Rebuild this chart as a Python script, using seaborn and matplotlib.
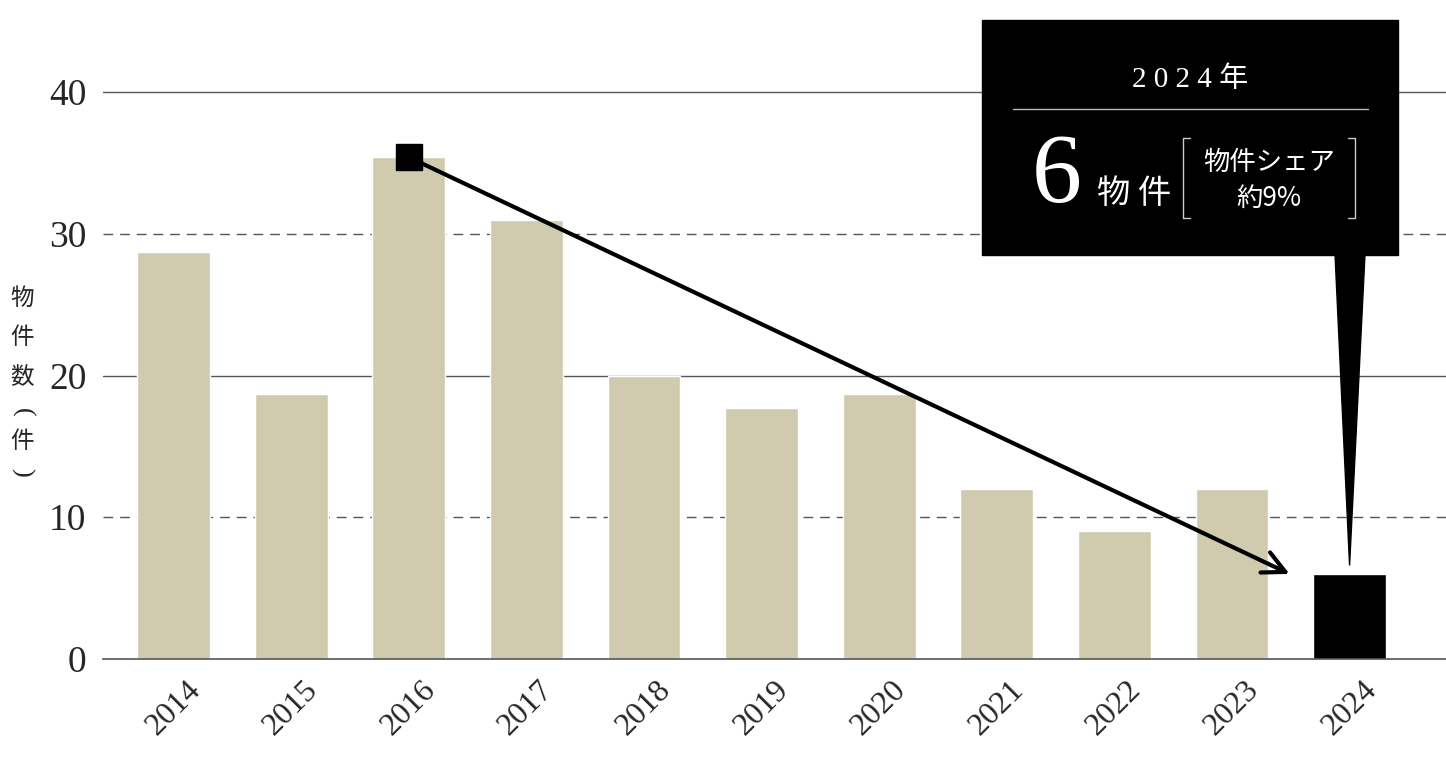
import numpy as np
import pandas as pd
import matplotlib
matplotlib.use("Agg")
import matplotlib.pyplot as plt
import seaborn as sns
from matplotlib.patches import Rectangle, Polygon

# data
years = ["2014", "2015", "2016", "2017", "2018", "2019", "2020", "2021", "2022", "2023", "2024"]
counts = [28.7, 18.7, 35.4, 31.0, 20.0, 17.7, 18.7, 12.0, 9.0, 12.0, 6.0]
bar_colors = ["#d0cbae"] * 10 + ["#000000"]
y_ticks = [0, 10, 20, 30, 40]
peak_year = "2016"

df = pd.DataFrame({"year": years, "count": counts})

sns.set_style("white")
plt.rcParams["font.family"] = ["Liberation Serif", "Noto Sans CJK JP"]

fig = plt.figure(figsize=(14.46, 7.76), dpi=100)
ax = fig.add_axes([103 / 1446, 117 / 776, 1 - 103 / 1446, 567 / 776])

sns.barplot(data=df, x="year", y="count", hue="year", palette=bar_colors,
            legend=False, width=0.62, saturation=1, ax=ax, zorder=2)

ax.set_xlim(-0.6, 10.82)
ax.set_ylim(0, 40)
for s in ["top", "right", "left"]:
    ax.spines[s].set_visible(False)
ax.spines["bottom"].set_color("#555555")
ax.spines["bottom"].set_linewidth(1.2)
ax.spines["bottom"].set_zorder(3)

# grid lines: solid at 20/40, dashed at 10/30
for v in y_ticks[1:]:
    ls = "-" if v % 20 == 0 else (0, (7, 5))
    ax.axhline(v, color="#555555", lw=1.0, ls=ls, zorder=1, clip_on=False)

ax.set_yticks(y_ticks)
ax.set_yticklabels([str(v) for v in y_ticks], fontsize=27)
ax.tick_params(axis="y", length=0, pad=12)
ax.tick_params(axis="x", length=0, pad=12)
for lab in ax.get_xticklabels():
    lab.set_rotation(45)
    lab.set_ha("center")
    lab.set_va("top")
    lab.set_fontsize(23)
ax.set_xlabel("")
ax.set_ylabel("")

# vertical y-axis label, one glyph per line
for ch, yp in [("物", 298), ("件", 338), ("数", 378), ("件", 442)]:
    fig.text(22 / 1446, 1 - yp / 776, ch, ha="center", va="center",
             fontsize=17, family=["Noto Sans CJK JP"])
# brackets turned for vertical writing
for ch, yp in [("(", 412), (")", 472)]:
    fig.text(22 / 1446, 1 - yp / 776, ch, ha="center", va="center", rotation=-90,
             fontsize=19, family=["Liberation Serif"], color="#222222")

# arrow from 2016 peak to 2024 bar
i_peak = years.index(peak_year)
ax.plot([i_peak], [counts[i_peak]], marker="s", ms=19, color="black", zorder=5)
ax.annotate("", xy=(9.49, counts[-1]), xytext=(i_peak, counts[i_peak]),
            arrowprops=dict(arrowstyle="->,head_length=1.6,head_width=0.8", lw=3,
                            color="black", shrinkA=0, shrinkB=0), zorder=4)

# callout box
tip_disp = ax.transData.transform((10, 6.6))
tip = fig.transFigure.inverted().transform(tip_disp)
box_l, box_r = 982 / 1446, 1398 / 1446
box_t, box_b = 1 - 20 / 776, 1 - 255 / 776
fig.patches.append(Rectangle((box_l, box_b), box_r - box_l, box_t - box_b,
                             transform=fig.transFigure, color="black", zorder=6))
fig.patches.append(Polygon([(1335 / 1446, box_b + 0.001), (1365 / 1446, box_b + 0.001), tuple(tip)],
                           closed=True, transform=fig.transFigure, color="black", zorder=6))

fig.text(1190 / 1446, 1 - 80 / 776, "2 0 2 4 年", color="white", fontsize=21,
         ha="center", va="center", zorder=7)
fig.add_artist(plt.Line2D([1013 / 1446, 1368 / 1446], [1 - 109 / 776] * 2,
                          transform=fig.transFigure, color="#bbbbbb", lw=1, zorder=7))
fig.text(1057 / 1446, 1 - 178 / 776, "6", color="white", fontsize=72,
         ha="center", va="center", zorder=7)
fig.text(1134 / 1446, 1 - 194 / 776, "物 件", color="white", fontsize=24,
         ha="center", va="center", family=["Noto Sans CJK JP"], zorder=7)
fig.text(1269 / 1446, 1 - 162 / 776, "物件シェア", color="white", fontsize=19,
         ha="center", va="center", family=["Noto Sans CJK JP"], zorder=7)
fig.text(1269 / 1446, 1 - 198 / 776, "約9%", color="white", fontsize=19,
         ha="center", va="center", family=["Noto Sans CJK JP"], zorder=7)
# brackets around the share text
for xs in ([1190, 1183, 1183, 1190], [1348, 1355, 1355, 1348]):
    fig.add_artist(plt.Line2D([x / 1446 for x in xs],
                              [1 - 138 / 776, 1 - 138 / 776, 1 - 218 / 776, 1 - 218 / 776],
                              transform=fig.transFigure, color="#cccccc", lw=1, zorder=7))

fig.savefig("out.png", dpi=100)
